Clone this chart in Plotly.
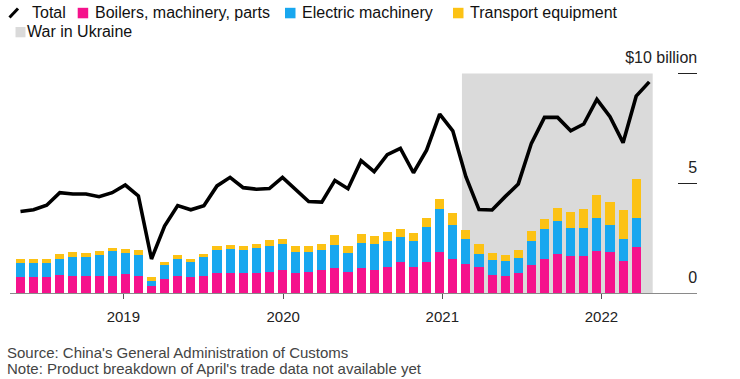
import numpy as np
import pandas as pd
import plotly.graph_objects as go

# ---------------- data ----------------
months_bar = [p.strftime("%Y-%m") for p in pd.period_range("2018-04", "2022-03", freq="M")]
months_total = [p.strftime("%Y-%m") for p in pd.period_range("2018-04", "2022-04", freq="M")]

boilers = [0.71, 0.71, 0.71, 0.80, 0.76, 0.76, 0.76, 0.79, 0.85, 0.79, 0.32, 0.66,
           0.79, 0.73, 0.79, 0.89, 0.91, 0.91, 0.92, 0.95, 1.06, 0.91, 0.97, 1.05,
           1.15, 0.95, 1.15, 1.06, 1.17, 1.41, 1.20, 1.41, 1.88, 1.57, 1.30, 1.17,
           0.84, 0.79, 0.89, 1.27, 1.56, 1.76, 1.70, 1.67, 1.92, 1.86, 1.47, 2.10]
electric_cum = [1.36, 1.36, 1.35, 1.57, 1.64, 1.62, 1.71, 1.92, 1.82, 1.73, 0.56, 1.27,
                1.56, 1.41, 1.62, 1.94, 2.00, 1.94, 2.03, 2.16, 2.23, 1.89, 1.88, 1.94,
                2.21, 1.83, 2.27, 2.24, 2.38, 2.56, 2.35, 3.03, 3.85, 3.09, 2.45, 1.80,
                1.50, 1.47, 1.60, 2.39, 2.92, 3.29, 2.98, 2.98, 3.44, 3.09, 2.47, 3.44]
transport_cum = [1.56, 1.56, 1.55, 1.80, 1.85, 1.83, 1.92, 2.07, 2.01, 1.95, 0.71, 1.42,
                 1.74, 1.57, 1.79, 2.12, 2.20, 2.15, 2.24, 2.41, 2.48, 2.16, 2.15, 2.24,
                 2.63, 2.15, 2.67, 2.60, 2.77, 2.91, 2.73, 3.44, 4.29, 3.65, 2.86, 2.24,
                 1.82, 1.71, 1.97, 2.82, 3.39, 3.88, 3.70, 3.85, 4.45, 4.14, 3.79, 5.21]
electric = [round(e - b, 2) for e, b in zip(electric_cum, boilers)]
transport = [round(t - e, 2) for t, e in zip(transport_cum, electric_cum)]

total = [3.71, 3.79, 4.00, 4.57, 4.51, 4.51, 4.39, 4.57, 4.92, 4.42, 1.55, 3.05,
         3.98, 3.79, 3.98, 4.88, 5.27, 4.80, 4.73, 4.76, 5.27, 4.74, 4.17, 4.14,
         5.13, 4.75, 6.03, 5.53, 6.30, 6.59, 5.48, 6.51, 8.15, 7.39, 5.30, 3.80,
         3.78, 4.39, 4.97, 6.82, 8.00, 8.00, 7.39, 7.70, 8.82, 8.03, 6.85, 8.97, 9.62]

year_labels = ["2019", "2020", "2021", "2022"]
y_tick_vals = [0, 5, 10]
y_tick_text = ["0", "5", "$10 billion"]
war_start, war_end = "2021-02", "2022-04"

# ---------------- style ----------------
PINK = "#f5128c"
BLUE = "#18a7ef"
YELLOW = "#fcc214"
GREY = "#dadada"
FONT = "Liberation Sans, Arial, sans-serif"

W, H = 740, 379
L, R, T, B = 10, 43, 45, 86
PW, PH = W - L - R, H - T - B

xb = np.arange(len(months_bar))
xt = np.arange(len(months_total))

fig = go.Figure()
for name, vals, col in [("Boilers, machinery, parts", boilers, PINK),
                        ("Electric machinery", electric, BLUE),
                        ("Transport equipment", transport, YELLOW)]:
    fig.add_trace(go.Bar(x=xb, y=vals, name=name, marker=dict(color=col, line=dict(width=0)),
                         width=0.69, showlegend=False))
fig.add_trace(go.Scatter(x=xt, y=total, mode="lines", name="Total",
                         line=dict(color="black", width=3.6), showlegend=False))

# war shading
ws = months_total.index(war_start) - 0.3
we = months_total.index(war_end) + 0.26
fig.add_shape(type="rect", xref="x", yref="y", x0=ws, x1=we, y0=0, y1=10,
              fillcolor=GREY, line=dict(width=0), layer="below")

# x ticks (year boundaries)
tick_pos = [months_bar.index(f"{int(y)-1}-12") + off for y, off in zip(year_labels, [-0.15, 0.05, 0.2, 0.35])]

x_lo = -0.8
x_hi = x_lo + PW / 13.1

fig.update_layout(
    width=W, height=H, margin=dict(l=L, r=R, t=T, b=B),
    paper_bgcolor="white", plot_bgcolor="white",
    barmode="stack", bargap=0.3,
    font=dict(family=FONT, color="#222", size=14),
    xaxis=dict(range=[x_lo, x_hi], showgrid=False, zeroline=False,
               showline=True, linecolor="#8a8a8a", linewidth=1.3,
               tickmode="array", tickvals=tick_pos, ticktext=year_labels,
               ticks="outside", ticklen=5, tickcolor="#555", tickwidth=1,
               ticklabelstandoff=5,
               tickfont=dict(size=15, color="#222")),
    yaxis=dict(range=[0, 11.3], side="right", showgrid=False, zeroline=False,
               showline=False, tickmode="array", tickvals=y_tick_vals, ticktext=y_tick_text,
               ticks="inside", ticklen=19, tickcolor="#222", tickwidth=1.3,
               ticklabelposition="inside", ticklabelstandoff=-19, ticklabelshift=-16,
               tickfont=dict(size=16, color="#222")),
)

def px(xp):
    return (xp - L) / PW

def py(yp):
    return (H - B - yp) / PH

# manual legend
fig.add_shape(type="line", xref="paper", yref="paper", x0=px(9.5), y0=py(17.5), x1=px(18), y1=py(8.5),
              line=dict(color="black", width=3))
items = [(31.5, "Total", None, None),
         (95, "Boilers, machinery, parts", PINK, 77.7),
         (302, "Electric machinery", BLUE, 285),
         (470, "Transport equipment", YELLOW, 453)]
for tx, text, col, sx in items:
    if col:
        fig.add_shape(type="rect", xref="paper", yref="paper", x0=px(sx), x1=px(sx + 10.5),
                      y0=py(18.3), y1=py(7.8), fillcolor=col, line=dict(width=0))
    fig.add_annotation(xref="paper", yref="paper", x=px(tx), y=py(13), text=text, showarrow=False,
                       xanchor="left", yanchor="middle", xshift=-2, font=dict(size=16, color="#111"))
fig.add_shape(type="rect", xref="paper", yref="paper", x0=px(15.5), x1=px(25.5),
              y0=py(37.3), y1=py(27), fillcolor=GREY, line=dict(width=0))
fig.add_annotation(xref="paper", yref="paper", x=px(27), y=py(32), text="War in Ukraine", showarrow=False,
                   xanchor="left", yanchor="middle", xshift=-2, font=dict(size=16, color="#111"))

# source / note
for yy, text in [(352, "Source: China's General Administration of Customs"),
                 (368, "Note: Product breakdown of April's trade data not available yet")]:
    fig.add_annotation(xref="paper", yref="paper", x=px(7), y=py(yy), text=text, showarrow=False,
                       xanchor="left", yanchor="middle", xshift=-2, font=dict(size=15, color="#444"))

fig.write_html("out.html", config={"displayModeBar": False},
               post_script="document.body.style.margin='0';document.body.style.overflow='hidden';")
